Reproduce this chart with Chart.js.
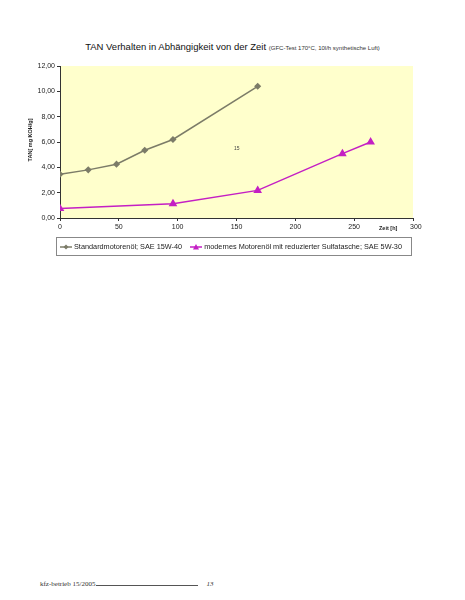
<!DOCTYPE html>
<html lang="de">
<head>
  <meta charset="UTF-8">
  <title>TAN Verhalten</title>
  <script src="https://cdn.jsdelivr.net/npm/chart.js"></script>
  <style>
    body {
      margin: 0;
      padding: 0;
      width: 465px;
      height: 600px;
      background: #fff;
      position: relative;
      font-family: 'Liberation Sans', Arial, sans-serif;
      overflow: hidden;
    }
    #wrap {
      position: absolute;
      left: 0;
      top: 0;
      width: 465px;
      height: 240px;
    }
    .title {
      position: absolute;
      left: 0;
      width: 465px;
      top: 41px;
      text-align: center;
      font-size: 9.5px;
      color: #111;
    }
    .title small {
      font-size: 6px;
      color: #333;
    }
    .ytitle {
      position: absolute;
      left: 30px;
      top: 140px;
      transform: translate(-50%, -50%) rotate(-90deg);
      font-size: 5.5px;
      font-weight: bold;
      white-space: nowrap;
      color: #222;
    }
    .xtitle {
      position: absolute;
      left: 379px;
      top: 225px;
      font-size: 5.5px;
      font-weight: bold;
      color: #222;
    }
    .note {
      position: absolute;
      left: 234px;
      top: 145px;
      font-size: 5px;
      color: #444;
    }
    #legend {
      position: absolute;
      left: 56px;
      top: 237px;
      width: 356px;
      height: 19px;
      border: 1px solid #888;
      font-size: 7.3px;
      color: #222;
      display: flex;
      align-items: center;
      padding-left: 2px;
      box-sizing: border-box;
    }
    .item {
      display: flex;
      align-items: center;
      margin-right: 7px;
      white-space: nowrap;
    }
    .item canvas {
      margin-right: 1px;
    }
    .footer {
      position: absolute;
      left: 40px;
      top: 580px;
      font-family: 'Liberation Serif', 'DejaVu Serif', serif;
      font-size: 7px;
      color: #333;
    }
    .footer .rule {
      display: inline-block;
      width: 102px;
      border-bottom: 1px solid #555;
      margin-left: 1px;
    }
    .footer i {
      margin-left: 8px;
    }
  </style>
</head>
<body>
  <div class="title">TAN Verhalten in Abhängigkeit von der Zeit <small>(GFC-Test 170°C, 10l/h synthetische Luft)</small></div>
  <div id="wrap"><canvas id="chart" width="465" height="240"></canvas></div>
  <div class="ytitle">TAN[ mg KOH/g]</div>
  <div class="xtitle">Zeit [h]</div>
  <div class="note">15</div>
  <div id="legend"></div>
  <div class="footer">kfz-betrieb 15/2005<span class="rule"></span><i>13</i></div>

  <script>
    const seriesNames = ['Standardmotorenöl; SAE 15W-40', 'modernes Motorenöl mit reduzierter Sulfatasche; SAE 5W-30'];
    const stdHours = [0, 24, 48, 72, 96, 168];
    const stdTan = [3.45, 3.8, 4.25, 5.35, 6.2, 10.4];
    const modHours = [0, 96, 168, 240, 264];
    const modTan = [0.75, 1.13, 2.18, 5.08, 6.0];
    const xTicks = [0, 50, 100, 150, 200, 250, 300];
    const yTicks = [0, 2, 4, 6, 8, 10, 12];

    const colors = ['#7c7c68', '#c41fc4'];
    const markers = ['rectRot', 'triangle'];

    const plotBg = {
      id: 'plotBg',
      beforeDraw(chart) {
        const a = chart.chartArea;
        const ctx = chart.ctx;
        ctx.save();
        ctx.fillStyle = '#ffffcc';
        ctx.fillRect(a.left, a.top, a.right - a.left, a.bottom - a.top);
        ctx.restore();
      }
    };

    const axisFont = { family: "'Liberation Sans', Arial, sans-serif", size: 7 };

    new Chart(document.getElementById('chart'), {
      type: 'line',
      data: {
        datasets: [{
          label: seriesNames[0],
          data: stdHours.map((h, i) => ({ x: h, y: stdTan[i] })),
          borderColor: colors[0],
          backgroundColor: colors[0],
          borderWidth: 1.5,
          pointStyle: markers[0],
          pointRadius: 2.5,
          tension: 0
        }, {
          label: seriesNames[1],
          data: modHours.map((h, i) => ({ x: h, y: modTan[i] })),
          borderColor: colors[1],
          backgroundColor: colors[1],
          borderWidth: 1.5,
          pointStyle: markers[1],
          pointRadius: 3.5,
          tension: 0
        }]
      },
      options: {
        responsive: false,
        animation: false,
        layout: { padding: { left: 0, top: 66, right: 52, bottom: 0 } },
        plugins: { legend: { display: false }, tooltip: { enabled: false } },
        scales: {
          x: {
            type: 'linear',
            min: 0,
            max: 300,
            afterFit(s) { s.height = 22; },
            afterBuildTicks(s) { s.ticks = xTicks.map(v => ({ value: v })); },
            ticks: {
              font: axisFont,
              color: '#222',
              padding: 2,
              maxRotation: 0,
              callback: v => v === 300 ? '   300' : String(v)
            },
            grid: { drawOnChartArea: false, drawTicks: true, tickLength: 3, color: '#333' },
            border: { color: '#333', width: 1 }
          },
          y: {
            min: 0,
            max: 12,
            afterFit(s) { s.width = 60; },
            afterBuildTicks(s) { s.ticks = yTicks.map(v => ({ value: v })); },
            ticks: {
              font: axisFont,
              color: '#222',
              padding: 2,
              callback: v => v.toFixed(2).replace('.', ',')
            },
            grid: { drawOnChartArea: false, drawTicks: true, tickLength: 3, color: '#333' },
            border: { color: '#333', width: 1 }
          }
        }
      },
      plugins: [plotBg]
    });

    // legend drawn as html with small sample canvases
    const legend = document.getElementById('legend');
    seriesNames.forEach((name, i) => {
      const item = document.createElement('div');
      item.className = 'item';
      const c = document.createElement('canvas');
      c.width = 14; c.height = 10;
      const g = c.getContext('2d');
      g.strokeStyle = colors[i];
      g.fillStyle = colors[i];
      g.lineWidth = 1.5;
      g.beginPath(); g.moveTo(1, 5); g.lineTo(13, 5); g.stroke();
      g.beginPath();
      if (markers[i] === 'rectRot') {
        g.moveTo(7, 2.5); g.lineTo(9.5, 5); g.lineTo(7, 7.5); g.lineTo(4.5, 5);
      } else {
        g.moveTo(7, 2); g.lineTo(10, 7.5); g.lineTo(4, 7.5);
      }
      g.closePath(); g.fill();
      item.appendChild(c);
      const t = document.createElement('span');
      t.textContent = name;
      item.appendChild(t);
      legend.appendChild(item);
    });
  </script>
</body>
</html>
